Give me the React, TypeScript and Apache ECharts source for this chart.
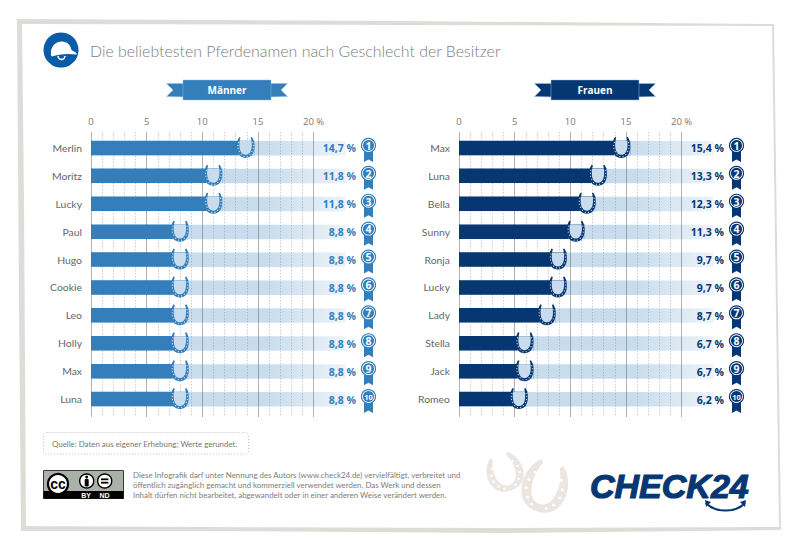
import React, { useEffect, useRef } from "react";
import * as echarts from "echarts";

const menNames = ["Merlin", "Moritz", "Lucky", "Paul", "Hugo", "Cookie", "Leo", "Holly", "Max", "Luna"];
const menValues = [14.7, 11.8, 11.8, 8.8, 8.8, 8.8, 8.8, 8.8, 8.8, 8.8];
const womenNames = ["Max", "Luna", "Bella", "Sunny", "Ronja", "Lucky", "Lady", "Stella", "Jack", "Romeo"];
const womenValues = [15.4, 13.3, 12.3, 11.3, 9.7, 9.7, 8.7, 6.7, 6.7, 6.2];
const titleText = "Die beliebtesten Pferdenamen nach Geschlecht der Besitzer";
const sourceText = "Quelle: Daten aus eigener Erhebung; Werte gerundet.";
const licenseLines = [
  "Diese Infografik darf unter Nennung des Autors (www.check24.de) vervielfältigt, verbreitet und",
  "öffentlich zugänglich gemacht und kommerziell verwendet werden. Das Werk und dessen",
  "Inhalt dürfen nicht bearbeitet, abgewandelt oder in einer anderen Weise verändert werden.",
];
const BAND_END = 22.9;
const FONT = "'Open Sans', sans-serif";
const LIGHT = "Lato, 'Open Sans', sans-serif";

const MEN = "#337ebb";
const WOMEN = "#063773";

echarts.graphic.registerShape(
  "hshoe",
  echarts.graphic.extendPath(
    "M2.6 0C-1.2 5 -1.8 21 9 21C19.8 21 19.2 5 15.4 0L14.1 0.6C15.9 6 16.2 17.9 9 17.9C1.8 17.9 2.1 6 3.9 0.6Z",
    {}
  ) as any
);
echarts.graphic.registerShape(
  "decoShoe",
  echarts.graphic.extendPath(
    "M4.5 0C-2.5 6 -2 21 9 21C20 21 20.5 6 13.5 0L12.5 1.5C15.5 7 15 17.8 9 17.8C3 17.8 2.5 7 5.5 1.5Z",
    {}
  ) as any
);
echarts.graphic.registerShape(
  "helmet",
  echarts.graphic.extendPath(
    "M51 55.5C50 47 55 41.5 62 41.5C67 41.5 70.5 45 71.5 50L76.5 53L76.5 54.6L68 54C62 54 57 55 52 56.5Z",
    {}
  ) as any
);

const dots: [number, number][] = [
  [1.9, 5.5], [1.3, 8.5], [1.5, 11.5], [2.7, 14.5], [4.6, 17.6], [7.4, 19.5],
  [16.1, 5.5], [16.7, 8.5], [16.5, 11.5], [15.3, 14.5], [13.4, 17.6], [10.6, 19.5],
];
const decoDots: [number, number][] = [
  [3.5, 6], [2, 9.5], [2, 13], [3.6, 16.5], [6, 18.8],
  [14.5, 6], [16, 9.5], [16, 13], [14.4, 16.5], [12, 18.8],
];

function shoeChildren(type: string, list: [number, number][], fill: string, dotFill: string, r: number) {
  return [
    { type, style: { fill } },
    ...list.map(([cx, cy]) => ({
      type: "circle",
      shape: { cx, cy, r },
      style: { fill: dotFill },
    })),
  ];
}

function barPanel(names: string[], values: number[], color: string, i: number, left: number) {
  const width = 222.6;
  const grids = [
    { left, width, top: 132, height: 285 },
    { left, width, top: 134, height: 279 },
  ];
  const gi = i * 2;
  const xAxes = [
    {
      gridIndex: gi,
      type: "value",
      position: "top",
      min: 0,
      max: 20,
      interval: 5,
      axisLine: { show: false },
      axisTick: { show: false },
      minorTick: { show: false, splitNumber: 5 },
      axisLabel: {
        show: true,
        color: "#7a7a7a",
        fontFamily: FONT,
        fontSize: 9.5,
        margin: 6,
        formatter: (v: number) => (v === 20 ? "20 %" : String(v)),
      },
      splitLine: { show: true, lineStyle: { color: "#b0b0b0", width: 1 } },
      minorSplitLine: { show: true, lineStyle: { color: "#cfcfcf", width: 1, type: [1.5, 1.5] } },
    },
    { gridIndex: gi + 1, type: "value", min: 0, max: 20, show: false },
  ];
  const yAxes = [
    { gridIndex: gi, type: "value", show: false, min: 0, max: 1 },
    {
      gridIndex: gi + 1,
      type: "category",
      inverse: true,
      data: names,
      axisLine: { show: false },
      axisTick: { show: false },
      splitLine: { show: false },
      axisLabel: { color: "#666", fontFamily: LIGHT, fontSize: 10.4, margin: 9 },
    },
  ];
  const data = values.map((v, idx) => [v, idx]);
  const series = [
    {
      type: "custom",
      name: "band",
      xAxisIndex: gi + 1,
      yAxisIndex: gi + 1,
      z: 2,
      silent: true,
      clip: false,
      data,
      renderItem: (_: any, api: any) => {
        const a = api.coord([0, api.value(1)]);
        const b = api.coord([BAND_END, api.value(1)]);
        return {
          type: "rect",
          shape: { x: a[0], y: a[1] - 7, width: b[0] - a[0], height: 14.5 },
          style: {
            fill: new echarts.graphic.LinearGradient(0, 0, 1, 0, [
              { offset: 0, color: "rgba(51,126,187,0.27)" },
              { offset: 0.68, color: "rgba(51,126,187,0.27)" },
              { offset: 0.94, color: "rgba(51,126,187,0.13)" },
              { offset: 1, color: "rgba(51,126,187,0.08)" },
            ]),
          },
        };
      },
    },
    {
      type: "bar",
      name: i === 0 ? "Männer" : "Frauen",
      xAxisIndex: gi + 1,
      yAxisIndex: gi + 1,
      data: values,
      barWidth: 14.5,
      z: 3,
      silent: true,
      itemStyle: { color },
    },
    {
      type: "custom",
      name: "marks",
      xAxisIndex: gi + 1,
      yAxisIndex: gi + 1,
      z: 4,
      silent: true,
      clip: false,
      data,
      renderItem: (_: any, api: any) => {
        const v = api.value(0);
        const idx = api.value(1);
        const end = api.coord([v, idx]);
        const zero = api.coord([0, idx]);
        const y = zero[1];
        const medalX = zero[0] + 277.5;
        const medalY = y - 2.5;
        const rank = idx + 1;
        return {
          type: "group",
          children: [
            {
              type: "rect",
              shape: { x: end[0] - 16, y: y - 7, width: 16, height: 14.5 },
              style: { fill: "#fff" },
            },
            {
              type: "rect",
              shape: { x: end[0] - 16, y: y - 7, width: 16, height: 14.5 },
              style: { fill: "rgba(51,126,187,0.27)" },
            },
            {
              type: "group",
              x: end[0] - 18,
              y: y - 11,
              children: shoeChildren("hshoe", dots, color, "rgba(255,255,255,0.8)", 0.6),
            },
            {
              type: "text",
              style: {
                text: v.toFixed(1).replace(".", ",") + " %",
                x: zero[0] + 265,
                y: y + 0.5,
                align: "right",
                verticalAlign: "middle",
                fill: color,
                fontFamily: FONT,
                fontWeight: 700,
                fontSize: 10.5,
              },
            },
            {
              type: "polygon",
              shape: {
                points: [
                  [medalX - 4.5, medalY + 4],
                  [medalX + 4.5, medalY + 4],
                  [medalX + 4.5, y + 14],
                  [medalX, y + 11.5],
                  [medalX - 4.5, y + 14],
                ],
              },
              style: { fill: color },
            },
            { type: "circle", shape: { cx: medalX, cy: medalY, r: 7.6 }, style: { fill: color } },
            { type: "circle", shape: { cx: medalX, cy: medalY, r: 6.4 }, style: { fill: "#fff" } },
            { type: "circle", shape: { cx: medalX, cy: medalY, r: 5.5 }, style: { fill: color } },
            {
              type: "text",
              style: {
                text: String(rank),
                x: medalX,
                y: medalY + 0.3,
                align: "center",
                verticalAlign: "middle",
                fill: "#fff",
                fontFamily: FONT,
                fontWeight: 700,
                fontSize: rank === 10 ? 7.5 : 10.5,
              },
            },
          ],
        };
      },
    },
  ];
  return { grids, xAxes, yAxes, series };
}

function banner(x0: number, text: string, color: string) {
  const y = 80;
  return [
    {
      type: "polygon",
      shape: { points: [[x0 - 16.5, y + 3.5], [x0 + 4, y + 3.5], [x0 + 4, y + 17], [x0 - 16.5, y + 16.5], [x0 - 10, y + 10]] },
      style: { fill: color, stroke: "#9cc3e0", lineWidth: 0.5 },
    },
    {
      type: "polygon",
      shape: { points: [[x0 + 104.5, y + 3.5], [x0 + 84, y + 3.5], [x0 + 84, y + 17], [x0 + 104.5, y + 16.5], [x0 + 98, y + 10]] },
      style: { fill: color, stroke: "#9cc3e0", lineWidth: 0.5 },
    },
    {
      type: "rect",
      shape: { x: x0, y, width: 88, height: 20 },
      style: { fill: color, stroke: "#8fbbdc", lineWidth: 0.5 },
    },
    {
      type: "text",
      style: {
        text,
        x: x0 + 44,
        y: y + 10,
        align: "center",
        verticalAlign: "middle",
        fill: "#fff",
        fontFamily: FONT,
        fontWeight: 700,
        fontSize: 10,
      },
    },
  ];
}

function txt(text: string, x: number, y: number, fontSize: number, fill: string, extra: any = {}) {
  return {
    type: "text",
    style: { text, x, y, fontSize, fill, fontFamily: LIGHT, align: "left", verticalAlign: "middle", ...extra },
  };
}

const frameColor = "#dfdcd8";

const graphicEls: any[] = [
  { type: "polygon", silent: true, shape: { points: [[16, 19], [400, 21], [774, 24], [774, 26], [400, 25], [20, 24]] }, style: { fill: frameColor } },
  { type: "polygon", silent: true, shape: { points: [[17, 19], [22, 22], [24, 200], [26, 527], [21, 531], [19, 300]] }, style: { fill: frameColor } },
  { type: "polygon", silent: true, shape: { points: [[21, 526], [200, 527], [500, 528], [781, 527], [781, 530], [500, 533], [200, 531], [21, 531]] }, style: { fill: frameColor } },
  { type: "polygon", silent: true, shape: { points: [[772, 24], [774, 24], [781, 528], [779, 528]] }, style: { fill: frameColor } },

  { type: "circle", shape: { cx: 61, cy: 50, r: 17.5 }, style: { fill: "#0b5ca8" } },
  { type: "helmet", style: { fill: "#fff" } },
  { type: "arc", shape: { cx: 61.5, cy: 56, r: 3.4, startAngle: 0, endAngle: Math.PI }, style: { stroke: "#fff", fill: "none", lineWidth: 1.6 } },
  txt(titleText, 90, 50, 15.9, "#7d7d7d", { fontWeight: 300 }),

  ...banner(183, "Männer", MEN),
  ...banner(551, "Frauen", WOMEN),

  {
    type: "rect",
    shape: { x: 43.5, y: 432.5, width: 205, height: 21.5, r: 3 },
    style: { fill: "none", stroke: "#bdbdbd", lineWidth: 1, lineDash: [1, 2] },
  },
  txt(sourceText, 52, 443.5, 7.9, "#777"),

  { type: "rect", shape: { x: 43.5, y: 470.5, width: 80, height: 28 }, style: { fill: "#aab1a8", stroke: "#111", lineWidth: 0.8 } },
  { type: "rect", shape: { x: 43.5, y: 491, width: 80, height: 7.8 }, style: { fill: "#000" } },
  { type: "circle", shape: { cx: 58, cy: 484, r: 10 }, style: { fill: "#fff", stroke: "#000", lineWidth: 2.2 } },
  txt("cc", 58, 483.5, 14, "#000", { align: "center", fontWeight: 700, fontFamily: "'Liberation Sans', sans-serif" }),
  { type: "circle", shape: { cx: 86.7, cy: 481, r: 7 }, style: { fill: "#fff", stroke: "#000", lineWidth: 1.4 } },
  { type: "circle", shape: { cx: 86.7, cy: 477, r: 1.4 }, style: { fill: "#000" } },
  { type: "rect", shape: { x: 84.7, y: 479, width: 4, height: 7.5, r: 1 }, style: { fill: "#000" } },
  { type: "circle", shape: { cx: 104.7, cy: 481, r: 7 }, style: { fill: "#fff", stroke: "#000", lineWidth: 1.4 } },
  { type: "rect", shape: { x: 101, y: 478.4, width: 7.4, height: 1.8 }, style: { fill: "#000" } },
  { type: "rect", shape: { x: 101, y: 481.8, width: 7.4, height: 1.8 }, style: { fill: "#000" } },
  txt("BY", 86, 495, 7, "#fff", { align: "center", fontWeight: 700, fontFamily: "'Liberation Sans', sans-serif" }),
  txt("ND", 104.5, 495, 7, "#fff", { align: "center", fontWeight: 700, fontFamily: "'Liberation Sans', sans-serif" }),

  ...licenseLines.map((l, i) => txt(l, 133, 474.5 + i * 10, 7.9, "#7d7d7d")),

  {
    type: "group",
    x: 481.6,
    y: 461,
    scaleX: 2,
    scaleY: 1.8,
    rotation: 0.35,
    children: shoeChildren("decoShoe", decoDots, "#ebe6e0", "#fff", 0.7),
  },
  {
    type: "group",
    x: 531,
    y: 455.7,
    scaleX: 2.5,
    scaleY: 2.45,
    rotation: -0.3,
    children: shoeChildren("decoShoe", decoDots, "#ebe6e0", "#fff", 0.6),
  },

  txt("CHECK24", 590, 485.5, 34, WOMEN, {
    fontWeight: 700,
    fontStyle: "italic",
    fontFamily: "'Liberation Sans', sans-serif",
    stroke: WOMEN,
    lineWidth: 1.2,
  }),
  {
    type: "bezierCurve",
    shape: { x1: 706, y1: 503, x2: 745, y2: 503, cpx1: 715, cpy1: 513, cpx2: 736, cpy2: 513 },
    style: { stroke: WOMEN, lineWidth: 2, fill: "none" },
  },
  { type: "polygon", shape: { points: [[705, 500], [711, 502], [706, 507]] }, style: { fill: WOMEN } },
  { type: "polygon", shape: { points: [[746, 500], [740, 502], [745, 507]] }, style: { fill: WOMEN } },
];

export default function App() {
  const ref = useRef<HTMLDivElement>(null);
  useEffect(() => {
    const chart = echarts.init(ref.current!, undefined, { renderer: "svg" });
    const a = barPanel(menNames, menValues, MEN, 0, 91);
    const b = barPanel(womenNames, womenValues, WOMEN, 1, 459);
    chart.setOption({
      animation: false,
      backgroundColor: "#fff",
      grid: [...a.grids, ...b.grids],
      xAxis: [...a.xAxes, ...b.xAxes],
      yAxis: [...a.yAxes, ...b.yAxes],
      series: [...a.series, ...b.series],
      graphic: { elements: graphicEls },
    });
    return () => chart.dispose();
  }, []);
  return <div ref={ref} style={{ position: "absolute", left: 0, top: 0, width: 800, height: 545 }} />;
}
